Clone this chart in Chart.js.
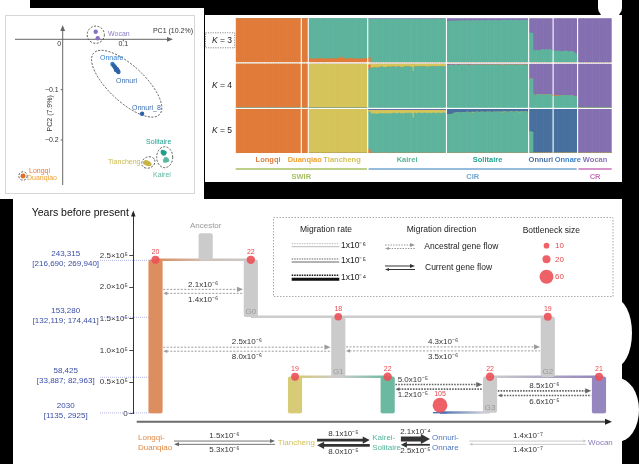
<!DOCTYPE html>
<html><head><meta charset="utf-8">
<script src="https://cdn.jsdelivr.net/npm/chart.js@4.4.1/dist/chart.umd.min.js"></script>
<style>
html,body{margin:0;padding:0;}
body{background:#000;width:639px;height:464px;overflow:hidden;position:relative;}
.w{position:absolute;background:#fff;}
canvas{position:absolute;}
</style></head><body>
<div class="w" style="left:0;top:0;width:30px;height:12px;"></div>
<div class="w" style="left:0;top:8px;width:204px;height:191px;"></div>
<div class="w" style="left:598px;top:0;width:24px;height:17px;border-radius:0 0 9px 9px;"></div>
<div class="w" style="left:205px;top:15px;width:417px;height:167px;"></div>
<div class="w" style="left:13px;top:199px;width:609px;height:265px;"></div>
<div class="w" style="left:596px;top:298px;width:36px;height:70px;border-radius:50%;"></div>
<div class="w" style="left:596px;top:378px;width:43px;height:64px;border-radius:50%;"></div>
<div style="position:absolute;left:5px;top:15px;width:188px;height:177px;border:1px solid #d6d6d6;"></div>
<canvas id="pca" width="204" height="199" style="left:0;top:0;width:204px;height:199px"></canvas>
<canvas id="k3" width="417" height="52" style="left:205px;top:14px;width:417px;height:52px"></canvas>
<canvas id="k4" width="417" height="52" style="left:205px;top:60px;width:417px;height:52px"></canvas>
<canvas id="k5" width="417" height="77" style="left:205px;top:105px;width:417px;height:77px"></canvas>
<canvas id="demo" width="609" height="265" style="left:13px;top:199px;width:609px;height:265px"></canvas>
<script>
// ================= DATA =================
// --- PCA (PC1, PC2) ---
const pcWocan = [{x:0.0545,y:0.015},{x:0.0578,y:0.002}];
const pcOnnare = [{x:0.082,y:-0.049}];
const pcOnnuri = [{x:0.084,y:-0.052},{x:0.086,y:-0.055},{x:0.087,y:-0.057},{x:0.089,y:-0.059},{x:0.09,y:-0.061},{x:0.088,y:-0.061},{x:0.091,y:-0.063},{x:0.092,y:-0.065}];
const pcOnnuri8 = [{x:0.131,y:-0.148}];
const pcSolitaire = [{x:0.165,y:-0.224},{x:0.167,y:-0.227},{x:0.166,y:-0.226},{x:0.168,y:-0.225}];
const pcKairei = [{x:0.170,y:-0.238},{x:0.172,y:-0.240},{x:0.169,y:-0.241},{x:0.171,y:-0.239}];
const pcTiancheng = [{x:0.136,y:-0.245},{x:0.139,y:-0.247},{x:0.141,y:-0.246},{x:0.143,y:-0.248},{x:0.138,y:-0.244}];
const pcLongqi = [{x:-0.066,y:-0.2715},{x:-0.065,y:-0.271}];
const pcDuanqiao = [{x:-0.0655,y:-0.272}];
const pcXTicks = [0, 0.1];
const pcYTicks = [-0.1, -0.2];
const pcAxisTitles = ['PC1 (10.2%)', 'PC2 (7.9%)'];

// --- ADMIXTURE ---
const popNames = ['Longqi','Duanqiao','Tiancheng','Kairei','Solitaire','Onnuri','Onnare','Wocan'];
const popSizes = [37,3,33,44,46,13,13,19];
const regionNames = ['SWIR','CIR','CR'];
const regionPops = [[0,2],[3,6],[7,7]];
const kValues = [3,4,5];
// per-individual minor components (dominant component = remainder)
const tcK3Orange = [0.08,0.08,0.07,0.08,0.08,0.08,0.09,0.08,0.08,0.07,0.08,0.08,0.08,0.09,0.08,0.08,0.09,0.09,0.12,0.09,0.08,0.08,0.08,0.09,0.08,0.08,0.08,0.07,0.08,0.08,0.08,0.08,0.09];
const krK3Orange = [0.1];
const soK3Purple = [0.07,0.07,0.06,0.07,0.06,0.06,0.06,0.06,0.05,0.06,0.06,0.05,0.06,0.06,0.05,0.06,0.05,0.05,0.06,0.05,0.05,0.06,0.05,0.05,0.05,0.06,0.05,0.05,0.05,0.06,0.05,0.05,0.04,0.05,0.05,0.05,0.04,0.05,0.05,0.04,0.05,0.05,0.04,0.05,0.04,0.05];
const onK3Purple = [0.33,0.34,0.73,0.74,0.73,0.74,0.72,0.71,0.72,0.71,0.72,0.71,0.72];
const oaK3Purple = [0.74,0.75,0.74,0.75,0.76,0.75,0.74,0.75,0.76,0.75,0.75,0.78,0.81];
const krK4Orange = [0.1];
const krK4Yellow = [0.03,0.1,0.1,0.09,0.1,0.09,0.08,0.07,0.08,0.09,0.08,0.07,0.08,0.07,0.07,0.08,0.07,0.07,0.09,0.08,0.07,0.06,0.07,0.07,0.08,0.18,0.07,0.07,0.06,0.07,0.07,0.06,0.07,0.08,0.07,0.07,0.06,0.07,0.07,0.06,0.07,0.07,0.06,0.07];
const soK4Purple = [0.04,0.04,0.03,0.04,0.03,0.03,0.035,0.03,0.03,0.03,0.03,0.03,0.035,0.03,0.03,0.03,0.03,0.025,0.03,0.03,0.03,0.03,0.03,0.03,0.025,0.03,0.03,0.03,0.03,0.03,0.03,0.025,0.03,0.03,0.03,0.03,0.025,0.03,0.03,0.03,0.03,0.025,0.03,0.03,0.03,0.03];
const soK4Yellow = [0,0,0,0,0,0,0,0,0,0,0,0,0,0,0.02,0,0,0,0,0,0,0,0,0,0,0,0,0,0,0,0,0.025,0,0,0,0,0,0,0,0,0,0.02,0,0,0,0];
const onK4Purple = [0.34,0.35,0.70,0.72,0.71,0.71,0.70,0.70,0.71,0.70,0.71,0.70,0.71];
const oaK4Purple = [0.72,0.72,0.73,0.72,0.72,0.73,0.72,0.72,0.73,0.72,0.73,0.74,0.76];
const oaK4Orange = [0.02,0.015,0.01,0.01];
const krK5Orange = [0.08];
const krK5Yellow = [0.03,0.08,0.08,0.08,0.09,0.08,0.07,0.07,0.08,0.08,0.07,0.07,0.08,0.07,0.06,0.07,0.07,0.06,0.08,0.07,0.07,0.06,0.07,0.06,0.07,0.17,0.06,0.07,0.06,0.06,0.07,0.06,0.06,0.07,0.06,0.07,0.06,0.06,0.07,0.06,0.06,0.07,0.06,0.06];
const soK5Blue = [0.13,0.12,0.12,0.11,0.09,0.08,0.08,0.09,0.08,0.08,0.08,0.07,0.08,0.08,0.07,0.08,0.07,0.07,0.08,0.07,0.07,0.08,0.07,0.07,0.07,0.08,0.07,0.07,0.07,0.07,0.07,0.07,0.06,0.07,0.07,0.07,0.06,0.07,0.07,0.06,0.07,0.07,0.06,0.07,0.06,0.07];
const soK5Yellow = soK4Yellow;
const onK5Blue = [0.52,0.53,1,1,1,1,1,1,1,1,1,1,1];

// --- DEMOGRAPHIC MODEL ---
const yTickValues = [0, 50000, 100000, 150000, 200000, 250000];
const splitTimes = [243315, 153280, 58425, 2030];
const splitCI = [[216690,269940],[132119,174441],[33887,82963],[1135,2925]];
const branchNames = ['Ancestor','Longqi','G0','G1','G2','Tiancheng','Kairei','G3','Wocan','Onnuri'];
const branchOld =   [285000, 243315, 243315, 153280, 153280, 58425, 58425, 58425, 58425, 2030];
const branchYoung = [243315, 0,      153280, 58425,  58425,  0,     0,     2030,  0,     0];
const connFrom = ['Longqi','G0','Tiancheng','G3','Onnuri'];
const connTo =   ['G0','G2','Kairei','Wocan','G3'];
const connTime = [243315, 153280, 58425, 58425, 2030];
const bnNode = ['Longqi','G0','G1','G2','Tiancheng','Kairei','G3','Wocan','Onnuri'];
const bnTime = [243315, 243315, 153280, 153280, 58425, 58425, 58425, 58425, 13500];
const bnSize = [20, 22, 18, 19, 19, 22, 22, 21, 105];
const ancFrom = ['Longqi','Longqi','G1','Kairei','G3'];
const ancTo =   ['G0','G1','G2','G3','Wocan'];
const ancTime = [193500, 102000, 102500, 42500, 32500];
const ancRateFwd =  [2.1e-6, 2.5e-6, 4.3e-6, 5.0e-5, 8.5e-6];
const ancRateBack = [1.4e-6, 8.0e-6, 3.5e-6, 1.2e-5, 6.6e-5];
const curPops = ['Longqi-\nDuanqiao','Tiancheng','Kairei-\nSolitaire','Onnuri-\nOnnare','Wocan'];
const curRateFwd =  [1.5e-6, 8.1e-5, 2.1e-4, 1.4e-7];
const curRateBack = [5.3e-6, 8.0e-5, 2.5e-5, 1.4e-7];
const legendRates = [1e-6, 1e-5, 1e-4];
const legendSizes = [10, 20, 60];

// ================= LAYOUT / STYLE =================
const FONT = '"Liberation Sans", Arial, Helvetica, sans-serif';
Chart.defaults.font.family = FONT;
const C = {orange:'#e07b3a', teal:'#5db39c', purple:'#8470b0', yellow:'#d5c45a', blue:'#48709e'};
const popLabelColors = ['#e07d3c','#f0a030','#d2c258','#57b29a','#22a58f','#4870a8','#3a82cc','#8773b6'];
const regionColors = ['#a7bf62','#72a6d0','#c772b8'];
const SUP = {'0':'⁰','1':'¹','2':'²','3':'³','4':'⁴','5':'⁵','6':'⁶','7':'⁷','8':'⁸','9':'⁹','-':'⁻'};
function sci(v, dec){ const e = Math.floor(Math.log10(v) + 1e-9); const m = v / Math.pow(10, e);
  return (dec === 0 ? String(Math.round(m)) : m.toFixed(1)) + 'x10' + String(e).split('').map(c => SUP[c]).join(''); }
function arrowHead(ctx, x, y, ang, len, half, color){
  ctx.save(); ctx.translate(x, y); ctx.rotate(ang); ctx.beginPath(); ctx.moveTo(0,0); ctx.lineTo(-len,-half); ctx.lineTo(-len,half); ctx.closePath(); ctx.fillStyle = color; ctx.fill(); ctx.restore();
}
function seg(ctx, x1, y1, x2, y2){ ctx.beginPath(); ctx.moveTo(x1,y1); ctx.lineTo(x2,y2); ctx.stroke(); }
const baseOpts = {responsive:false, animation:false, events:[], plugins:{legend:{display:false}, tooltip:{enabled:false}}};

// ================= PCA =================
const pcSets = [[pcWocan,'#8a70c2'],[pcOnnuri,'#2d64a8'],[pcOnnare,'#3c82d2'],[pcOnnuri8,'#2d64a8'],[pcSolitaire,'#1f9e8c'],[pcKairei,'#5cb8a0'],[pcTiancheng,'#c9b545'],[pcLongqi,'#e07030'],[pcDuanqiao,'#f0a020']];
const pcLabelPos = [['Wocan',0.0748,0.0105,'#8a7cc4'],['Onnare',0.0616,-0.0371,'#3a80d0'],['Onnuri',0.088,-0.0828,'#3a6cb0'],['Onnuri_8',0.1144,-0.1364,'#3a6cb0'],['Solitaire',0.1375,-0.204,'#20a090'],['Tiancheng',0.0748,-0.2437,'#c8b850'],['Kairei',0.149,-0.2695,'#5cb8a0'],['Longqi',-0.0556,-0.2616,'#e07838'],['Duanqiao',-0.0589,-0.2755,'#f0a030']];
const pcEllipses = [[0.0546,0.0091,8.6,8.6,0],[0.1056,-0.0882,45,18,43],[0.1683,-0.2342,8,10.5,0],[0.1413,-0.2447,6.8,5.5,-25],[-0.0655,-0.2715,4.2,4.2,0]];
const fmtPc = v => v === 0 ? '0' : (v < 0 ? '−' : '') + Math.abs(v).toFixed(1);
const pcaDecor = {id:'pcaDecor', beforeDatasetsDraw(chart){
  const ctx = chart.ctx, xs = chart.scales.x, ys = chart.scales.y;
  const x0 = xs.getPixelForValue(0), y0 = ys.getPixelForValue(0);
  ctx.save(); ctx.strokeStyle = '#666'; ctx.lineWidth = 1;
  seg(ctx, xs.left, y0, xs.right - 4, y0); seg(ctx, x0, ys.bottom, x0, ys.top + 4);
  arrowHead(ctx, xs.right, y0, 0, 6, 2.4, '#666'); arrowHead(ctx, x0, ys.top, -Math.PI/2, 6, 2.4, '#666');
  ctx.font = '7px ' + FONT; ctx.fillStyle = '#333';
  pcXTicks.forEach(v => { const px = xs.getPixelForValue(v); if (v !== 0) seg(ctx, px, y0, px, y0 + 2);
    ctx.textAlign = 'center'; ctx.textBaseline = 'top'; ctx.fillText(fmtPc(v), v === 0 ? px - 3.6 : px, y0 + 1.5); });
  pcYTicks.forEach(v => { const py = ys.getPixelForValue(v); seg(ctx, x0 - 2, py, x0, py);
    ctx.textAlign = 'right'; ctx.textBaseline = 'middle'; ctx.fillText(fmtPc(v), x0 - 4, py); });
  ctx.textAlign = 'right'; ctx.textBaseline = 'middle'; ctx.fillText(pcAxisTitles[0], xs.right + 20, y0 - 8.5);
  ctx.save(); ctx.translate(x0 - 12.5, ys.getPixelForValue(-0.147)); ctx.rotate(-Math.PI/2); ctx.textAlign = 'center'; ctx.fillText(pcAxisTitles[1], 0, 0); ctx.restore();
  ctx.setLineDash([2,1.5]); ctx.strokeStyle = '#555';
  pcEllipses.forEach(([cx,cy,rx,ry,rot]) => { ctx.beginPath(); ctx.ellipse(xs.getPixelForValue(cx), ys.getPixelForValue(cy), rx, ry, rot*Math.PI/180, 0, 2*Math.PI); ctx.stroke(); });
  ctx.setLineDash([]);
  ctx.font = '7px ' + FONT; ctx.textAlign = 'left'; ctx.textBaseline = 'middle';
  pcLabelPos.forEach(([t,x,y,c]) => { ctx.fillStyle = c; ctx.fillText(t, xs.getPixelForValue(x), ys.getPixelForValue(y)); });
  ctx.restore();
}};
new Chart(document.getElementById('pca'), {
  type:'scatter',
  data:{datasets: pcSets.map(([d,c]) => ({data:d, backgroundColor:c, borderWidth:0, pointRadius:2.2}))},
  options:Object.assign({}, baseOpts, {layout:{padding:{left:15,right:31,top:25,bottom:14}},
    scales:{x:{type:'linear',min:-0.0787,max:0.182,display:false}, y:{type:'linear',min:-0.2894,max:0.0284,display:false}}}),
  plugins:[pcaDecor]
});

// ================= ADMIXTURE =================
const NCAT = popSizes.reduce((a,b)=>a+b,0) + popSizes.length - 1;
const popStart = []; { let s = 0; popSizes.forEach(n => { popStart.push(s); s += n + 1; }); }
function expand(spec){ const out = []; spec.forEach((s,i) => { if (i > 0) out.push(null);
  for (let j = 0; j < popSizes[i]; j++) out.push(Array.isArray(s) ? (s[j] ?? 0) : s); }); return out; }
function remainder(arrs){ return arrs[0].map((v,i) => v === null ? null : Math.max(0, 1 - arrs.reduce((s,a) => s + a[i], 0))); }
const k3o = expand([1,1,tcK3Orange,krK3Orange,0,0,0,0]);
const k3p = expand([0,0,0,0.02,soK3Purple,onK3Purple,oaK3Purple,1]);
const k3t = remainder([k3o,k3p]);
const k4o = expand([1,1,0,krK4Orange,0,0,oaK4Orange,0]);
const k4y = expand([0,0,1,krK4Yellow,soK4Yellow,0,0,0]);
const k4p = expand([0,0,0,0,soK4Purple,onK4Purple,oaK4Purple,1]);
const k4t = remainder([k4o,k4y,k4p]);
const k5o = expand([1,1,0,krK5Orange,0,0,0,0]);
const k5y = expand([0,0,1,krK5Yellow,soK5Yellow,0,0,0]);
const k5b = expand([0,0,0,0.012,soK5Blue,onK5Blue,1,0]);
const k5p = expand([0,0,0,0.02,0,0,0,1]);
const k5t = remainder([k5o,k5y,k5b,k5p]);
const catLabels = Array.from({length:NCAT}, (_, i) => String(i));

function kLabel(n, box){ return {id:'klabel'+n, afterDraw(chart){
  const ctx = chart.ctx, ca = chart.chartArea, y = (ca.top + ca.bottom)/2;
  ctx.save(); ctx.fillStyle = '#222'; ctx.textBaseline = 'middle'; ctx.textAlign = 'left';
  ctx.font = '8.5px ' + FONT; const rest = ' = ' + n; const rw = ctx.measureText(rest).width;
  ctx.font = 'italic 8.5px ' + FONT; const kw = ctx.measureText('K').width; const right = ca.left - 3.7;
  ctx.fillText('K', right - rw - kw, y); ctx.font = '8.5px ' + FONT; ctx.fillText(rest, right - rw, y);
  if (box){ ctx.setLineDash([1.2,1.2]); ctx.strokeStyle = '#888'; ctx.lineWidth = 1; ctx.strokeRect(0.5, y - 7.5, ca.left - 1.5, 15); }
  ctx.restore(); }}; }
const admixLabels = {id:'admixLabels', afterDraw(chart){
  const ctx = chart.ctx, ca = chart.chartArea, xs = chart.scales.x;
  const w = (ca.right - ca.left) / NCAT;
  const spans = popStart.map((s,i) => [xs.getPixelForValue(s) - w/2, xs.getPixelForValue(s + popSizes[i] - 1) + w/2]);
  ctx.save(); ctx.font = 'bold 7.5px ' + FONT; ctx.textBaseline = 'middle'; ctx.textAlign = 'left';
  let prevRight = -1e9;
  popNames.forEach((n,i) => { const tw = ctx.measureText(n).width; let l = (spans[i][0] + spans[i][1])/2 - tw/2;
    if (l < prevRight + 1.5) l = prevRight + 1.5; ctx.fillStyle = popLabelColors[i]; ctx.fillText(n, l, ca.bottom + 7); prevRight = l + tw; });
  regionPops.forEach(([a,b],i) => { const x1 = spans[a][0], x2 = spans[b][1];
    ctx.strokeStyle = regionColors[i]; ctx.lineWidth = 1.5; seg(ctx, x1, ca.bottom + 16, x2, ca.bottom + 16);
    ctx.fillStyle = regionColors[i]; ctx.textAlign = 'center'; ctx.fillText(regionNames[i], (x1 + x2)/2, ca.bottom + 23.5); });
  ctx.restore(); }};
function makeRow(id, comps, padTop, padBottom, plugins){
  return new Chart(document.getElementById(id), {
    type:'bar',
    data:{labels:catLabels, datasets: comps.map(([d,c]) => ({data:d, backgroundColor:c, borderWidth:0, barPercentage:1, categoryPercentage:1}))},
    options:Object.assign({}, baseOpts, {layout:{padding:{left:30.7,right:10.3,top:padTop,bottom:padBottom}},
      scales:{x:{stacked:true,display:false}, y:{stacked:true,display:false,min:0,max:1}}}),
    plugins
  });
}
makeRow('k3', [[k3o,C.orange],[k3t,C.teal],[k3p,C.purple]], 4.3, 3.7, [kLabel(kValues[0], true)]);
makeRow('k4', [[k4t,C.teal],[k4o,C.orange],[k4y,C.yellow],[k4p,C.purple]], 3.7, 4.3, [kLabel(kValues[1], false)]);
makeRow('k5', [[k5o,C.orange],[k5t,C.teal],[k5y,C.yellow],[k5b,C.blue],[k5p,C.purple]], 4, 29, [kLabel(kValues[2], false), admixLabels]);

// ================= DEMOGRAPHIC MODEL =================
const lane = {Longqi:4.64, Ancestor:15.12, G0:24.55, Tiancheng:33.78, G1:42.82, Kairei:53.14, Onnuri:64.07, G3:74.52, G2:86.59, Wocan:97.28};
const BAR_W = 13.5;
const branchColor = {Ancestor:'#cbcbcb', Longqi:'#dd8e60', G0:'#cbcbcb', G1:'#cbcbcb', G2:'#cbcbcb', Tiancheng:'#d7cb77', Kairei:'#6cb9a2', G3:'#cbcbcb', Wocan:'#9586bf', Onnuri:'#4b70b5'};
const connStops = [[['Longqi','#d98c5e'],['Ancestor','#d2c0b4'],['G0','#c9c9c9']],[['G0','#cccccc'],['G2','#cccccc']],[['Tiancheng','#d6ca72'],['G1','#cccccc'],['Kairei','#6db9a2']],[['G3','#cccccc'],['Wocan','#9384bc']],[['Onnuri','#4d6fb0'],['G3','#dddddd']]];
const ancLabelFrac = [0.5,0.5,0.5,0.2,0.5];
const curLabelU = [0.98, 30.2, 49.9, 62.4, 95.0];
const curArrowU = [[8.5,29.6],[38.4,49.4],[55.9,61.96],[70.2,94.65]];
const curPopColors = ['#e08a45','#d2c25a','#52b39a','#4f79c0','#8b7bbb'];
const legendRateY = [245.7, 261, 277.3];
const legendSizeY = [245.7, 259.3, 276.7];
const P = x => x - 13, Q = y => y - 199;
const dotR = n => Math.min(7.4, 0.9 * Math.sqrt(n));
function gradFor(stops){ return (c) => { const ch = c.chart; if (!ch.chartArea) return stops[0][1];
  const xs = ch.scales.x; const x1 = xs.getPixelForValue(lane[stops[0][0]]), x2 = xs.getPixelForValue(lane[stops[stops.length-1][0]]);
  const g = ch.ctx.createLinearGradient(x1, 0, x2, 0);
  stops.forEach(([n,col]) => g.addColorStop(Math.min(1, Math.max(0, (xs.getPixelForValue(lane[n]) - x1)/(x2 - x1))), col)); return g; }; }
function ancStyle(r){ if (r >= 5e-5) return {w:1.6,c:'#666',dash:[1.6,1.2],gap:2.3}; if (r >= 1e-5) return {w:1.3,c:'#777',dash:[1.5,1.2],gap:2.2}; return {w:1,c:'#9c9c9c',dash:[2,1.5],gap:2}; }
function curStyle(r){ if (r >= 1e-4) return {w:5,c:'#333',head:9,half:5}; if (r >= 5e-5) return {w:2.8,c:'#333',head:7,half:3.6};
  if (r >= 1e-5) return {w:1.8,c:'#333',head:6,half:3}; if (r >= 1e-6) return {w:0.9,c:'#666',head:5,half:2}; return {w:0.9,c:'#c4c4c4',head:3,half:1.5}; }
const fmtN = n => n >= 10000 ? n.toLocaleString('en-US') : String(n);

const demoDecor = {id:'demoDecor',
  beforeDatasetsDraw(chart){
    const ctx = chart.ctx, xs = chart.scales.x, ys = chart.scales.y;
    const lqLeft = xs.getPixelForValue(lane.Longqi) - BAR_W/2;
    ctx.save();
    splitTimes.forEach((t,i) => { const y = ys.getPixelForValue(t);
      ctx.setLineDash([1,1]); ctx.strokeStyle = '#b4b4e4'; ctx.lineWidth = 1; seg(ctx, P(100), y + 0.5, lqLeft, y + 0.5); ctx.setLineDash([]);
      ctx.fillStyle = '#3a4ea6'; ctx.font = '8px ' + FONT; ctx.textAlign = 'center'; ctx.textBaseline = 'middle';
      ctx.fillText(fmtN(t), P(65.7), y - 6.2);
      const a = splitCI[i][0], b = splitCI[i][1];
      ctx.fillText('[' + fmtN(a) + (a >= 10000 ? '; ' : ', ') + fmtN(b) + ']', P(65.7), y + 3.8); });
    ctx.restore();
  },
  afterDatasetsDraw(chart){
    const ctx = chart.ctx, xs = chart.scales.x, ys = chart.scales.y;
    ctx.save(); ctx.textBaseline = 'middle';
    ctx.font = '8px ' + FONT; ctx.fillStyle = '#999'; ctx.textAlign = 'center';
    ctx.fillText('Ancestor', xs.getPixelForValue(lane.Ancestor), ys.getPixelForValue(branchOld[0]) - 7.6);
    ['G0','G1','G2','G3'].forEach(g => { const i = branchNames.indexOf(g); ctx.fillText(g, xs.getPixelForValue(lane[g]), ys.getPixelForValue(branchYoung[i]) - 5); });
    ancFrom.forEach((f,i) => {
      const xa = xs.getPixelForValue(lane[f]) + BAR_W/2 + 1, xb = xs.getPixelForValue(lane[ancTo[i]]) - BAR_W/2 - 1;
      const yc = ys.getPixelForValue(ancTime[i]); const st = ancStyle(Math.max(ancRateFwd[i], ancRateBack[i]));
      const yt = yc - st.gap, yb = yc + st.gap;
      ctx.strokeStyle = st.c; ctx.lineWidth = st.w; ctx.setLineDash(st.dash);
      seg(ctx, xa, yt, xb - 5, yt); seg(ctx, xa + 3.5, yb, xb, yb); ctx.setLineDash([]);
      arrowHead(ctx, xb, yt, 0, 6, 2.6, st.c); arrowHead(ctx, xa, yb, Math.PI, 4, 1.8, st.c);
      const lx = xa + (xb - xa) * ancLabelFrac[i];
      ctx.fillStyle = '#333'; ctx.font = '8px ' + FONT; ctx.textAlign = 'center';
      ctx.fillText(sci(ancRateFwd[i]), lx, yt - 5); ctx.fillText(sci(ancRateBack[i]), lx, yb + 6);
    });
    ctx.font = '7px ' + FONT; ctx.fillStyle = '#e8474c'; ctx.textAlign = 'center';
    bnNode.forEach((n,i) => ctx.fillText(String(bnSize[i]), xs.getPixelForValue(lane[n]), ys.getPixelForValue(bnTime[i]) - dotR(bnSize[i]) - 3.5));
    ctx.restore();
  },
  afterDraw(chart){
    const ctx = chart.ctx, xs = chart.scales.x, ys = chart.scales.y, ca = chart.chartArea;
    ctx.save(); ctx.textBaseline = 'middle';
    ctx.font = '10.5px ' + FONT; ctx.fillStyle = '#111'; ctx.textAlign = 'right';
    ctx.fillText('Years before present', ca.left - 4.5, ca.top + 1.3);
    arrowHead(ctx, ca.left, ca.top - 1.5, -Math.PI/2, 6, 2.3, '#222');
    ctx.strokeStyle = '#6b6b6b'; ctx.lineWidth = 2; seg(ctx, ca.left + 3.4, ca.bottom + 8, ca.right - 6, ca.bottom + 8);
    arrowHead(ctx, ca.right, ca.bottom + 8, 0, 7, 3, '#222');
    const base = ca.bottom + 29;
    ctx.font = '8px ' + FONT; ctx.textAlign = 'left';
    curPops.forEach((name,i) => { const lines = name.split('\n'); const x = xs.getPixelForValue(curLabelU[i]); ctx.fillStyle = curPopColors[i];
      if (lines.length === 1) ctx.fillText(lines[0], x, base); else { ctx.fillText(lines[0], x, base - 5.2); ctx.fillText(lines[1], x, base + 5.2); } });
    curRateFwd.forEach((rf,i) => { const rb = curRateBack[i];
      const x1 = xs.getPixelForValue(curArrowU[i][0]), x2 = xs.getPixelForValue(curArrowU[i][1]);
      const sf = curStyle(rf), sb = curStyle(rb); const yt = base - 1.2 - sf.w/2, yb = base + 1.2 + sb.w/2;
      ctx.strokeStyle = sf.c; ctx.lineWidth = sf.w; seg(ctx, x1, yt, x2 - sf.head + 1, yt); arrowHead(ctx, x2, yt, 0, sf.head, sf.half, sf.c);
      ctx.strokeStyle = sb.c; ctx.lineWidth = sb.w; seg(ctx, x1 + sb.head - 1, yb, x2, yb); arrowHead(ctx, x1, yb, Math.PI, sb.head, sb.half, sb.c);
      ctx.fillStyle = '#333'; ctx.textAlign = 'center';
      ctx.fillText(sci(rf), (x1 + x2)/2, yt - sf.w/2 - 5); ctx.fillText(sci(rb), (x1 + x2)/2, yb + sb.w/2 + 5); });
    ctx.setLineDash([1.5,1.5]); ctx.strokeStyle = '#aaa'; ctx.lineWidth = 1; ctx.strokeRect(P(273.5), Q(217.5), 339.5, 79); ctx.setLineDash([]);
    ctx.font = '8.5px ' + FONT; ctx.fillStyle = '#222'; ctx.textAlign = 'left';
    ctx.fillText('Migration rate', P(300), Q(229.3)); ctx.fillText('Migration direction', P(406.7), Q(229.3)); ctx.fillText('Bottleneck size', P(522.7), Q(231));
    legendRates.forEach((r,i) => { const y = Q(legendRateY[i]);
      const col = r >= 1e-4 ? '#111' : (r >= 1e-5 ? '#666' : '#bbb');
      ctx.strokeStyle = col; ctx.setLineDash([1.5,1]); ctx.lineWidth = r >= 1e-4 ? 1.5 : 1; seg(ctx, P(291.7), y - 2, P(339.3), y - 2);
      ctx.setLineDash([]); ctx.lineWidth = r >= 1e-4 ? 3 : 1; seg(ctx, P(291.7), y + (r >= 1e-4 ? 2 : 1), P(339.3), y + (r >= 1e-4 ? 2 : 1));
      ctx.fillStyle = '#222'; ctx.fillText(sci(r, 0), P(341), y); });
    ctx.strokeStyle = '#999'; ctx.lineWidth = 1; ctx.setLineDash([1.5,1.2]);
    seg(ctx, P(385), Q(245), P(410), Q(245)); seg(ctx, P(389), Q(248.5), P(415), Q(248.5)); ctx.setLineDash([]);
    arrowHead(ctx, P(415), Q(245), 0, 5, 2, '#999'); arrowHead(ctx, P(385), Q(248.5), Math.PI, 4, 1.6, '#999');
    ctx.strokeStyle = '#333'; seg(ctx, P(385), Q(266), P(410), Q(266)); seg(ctx, P(389), Q(269.5), P(415), Q(269.5));
    arrowHead(ctx, P(415), Q(266), 0, 5, 2, '#333'); arrowHead(ctx, P(385), Q(269.5), Math.PI, 4, 1.6, '#333');
    ctx.fillStyle = '#222'; ctx.fillText('Ancestral gene flow', P(424.3), Q(246.7)); ctx.fillText('Current gene flow', P(425), Q(267.7));
    legendSizes.forEach((s,i) => { ctx.fillStyle = 'rgba(236,80,86,0.9)'; ctx.beginPath(); ctx.arc(P(546.5), Q(legendSizeY[i]), dotR(s), 0, 2*Math.PI); ctx.fill();
      ctx.fillStyle = '#e8474c'; ctx.font = '8px ' + FONT; ctx.fillText(String(s), P(555), Q(legendSizeY[i])); });
    ctx.restore();
  }
};

new Chart(document.getElementById('demo'), {
  type:'bar',
  data:{datasets:[
    ...connFrom.map((f,i) => ({type:'line', data:[{x:lane[f], y:connTime[i]}, {x:lane[connTo[i]], y:connTime[i]}], borderColor:gradFor(connStops[i]), borderWidth:2.5, pointRadius:0, order:3, clip:false})),
    {type:'bar', data:branchNames.map((b,i) => ({x:lane[b], y:[branchYoung[i], branchOld[i]]})), backgroundColor:branchNames.map(b => branchColor[b]), borderWidth:0, borderRadius:2, borderSkipped:false, barThickness:BAR_W, order:2},
    {type:'bubble', data:bnNode.map((n,i) => ({x:lane[n], y:bnTime[i], r:dotR(bnSize[i])})), backgroundColor:'rgba(236,80,86,0.9)', borderWidth:0, order:1, clip:false}
  ]},
  options:Object.assign({}, baseOpts, {layout:{padding:{left:0,right:10,top:13,bottom:50.3}},
    scales:{
      x:{type:'linear', min:0, max:100, display:false, offset:false},
      y:{type:'linear', min:0, max:319000, position:'left',
        afterFit(s){ s.width = 120.3; },
        afterBuildTicks(s){ s.ticks = yTickValues.map(v => ({value:v})); },
        ticks:{autoSkip:false, padding:1.5, color:'#333', font:{size:8}, callback:v => v === 0 ? '0' : (v/1e5).toFixed(1) + '×10⁵'},
        grid:{drawOnChartArea:false, drawTicks:true, tickLength:4, color:'#444'},
        border:{color:'#333', width:1}}
    }}),
  plugins:[demoDecor]
});
</script>
</body></html>
